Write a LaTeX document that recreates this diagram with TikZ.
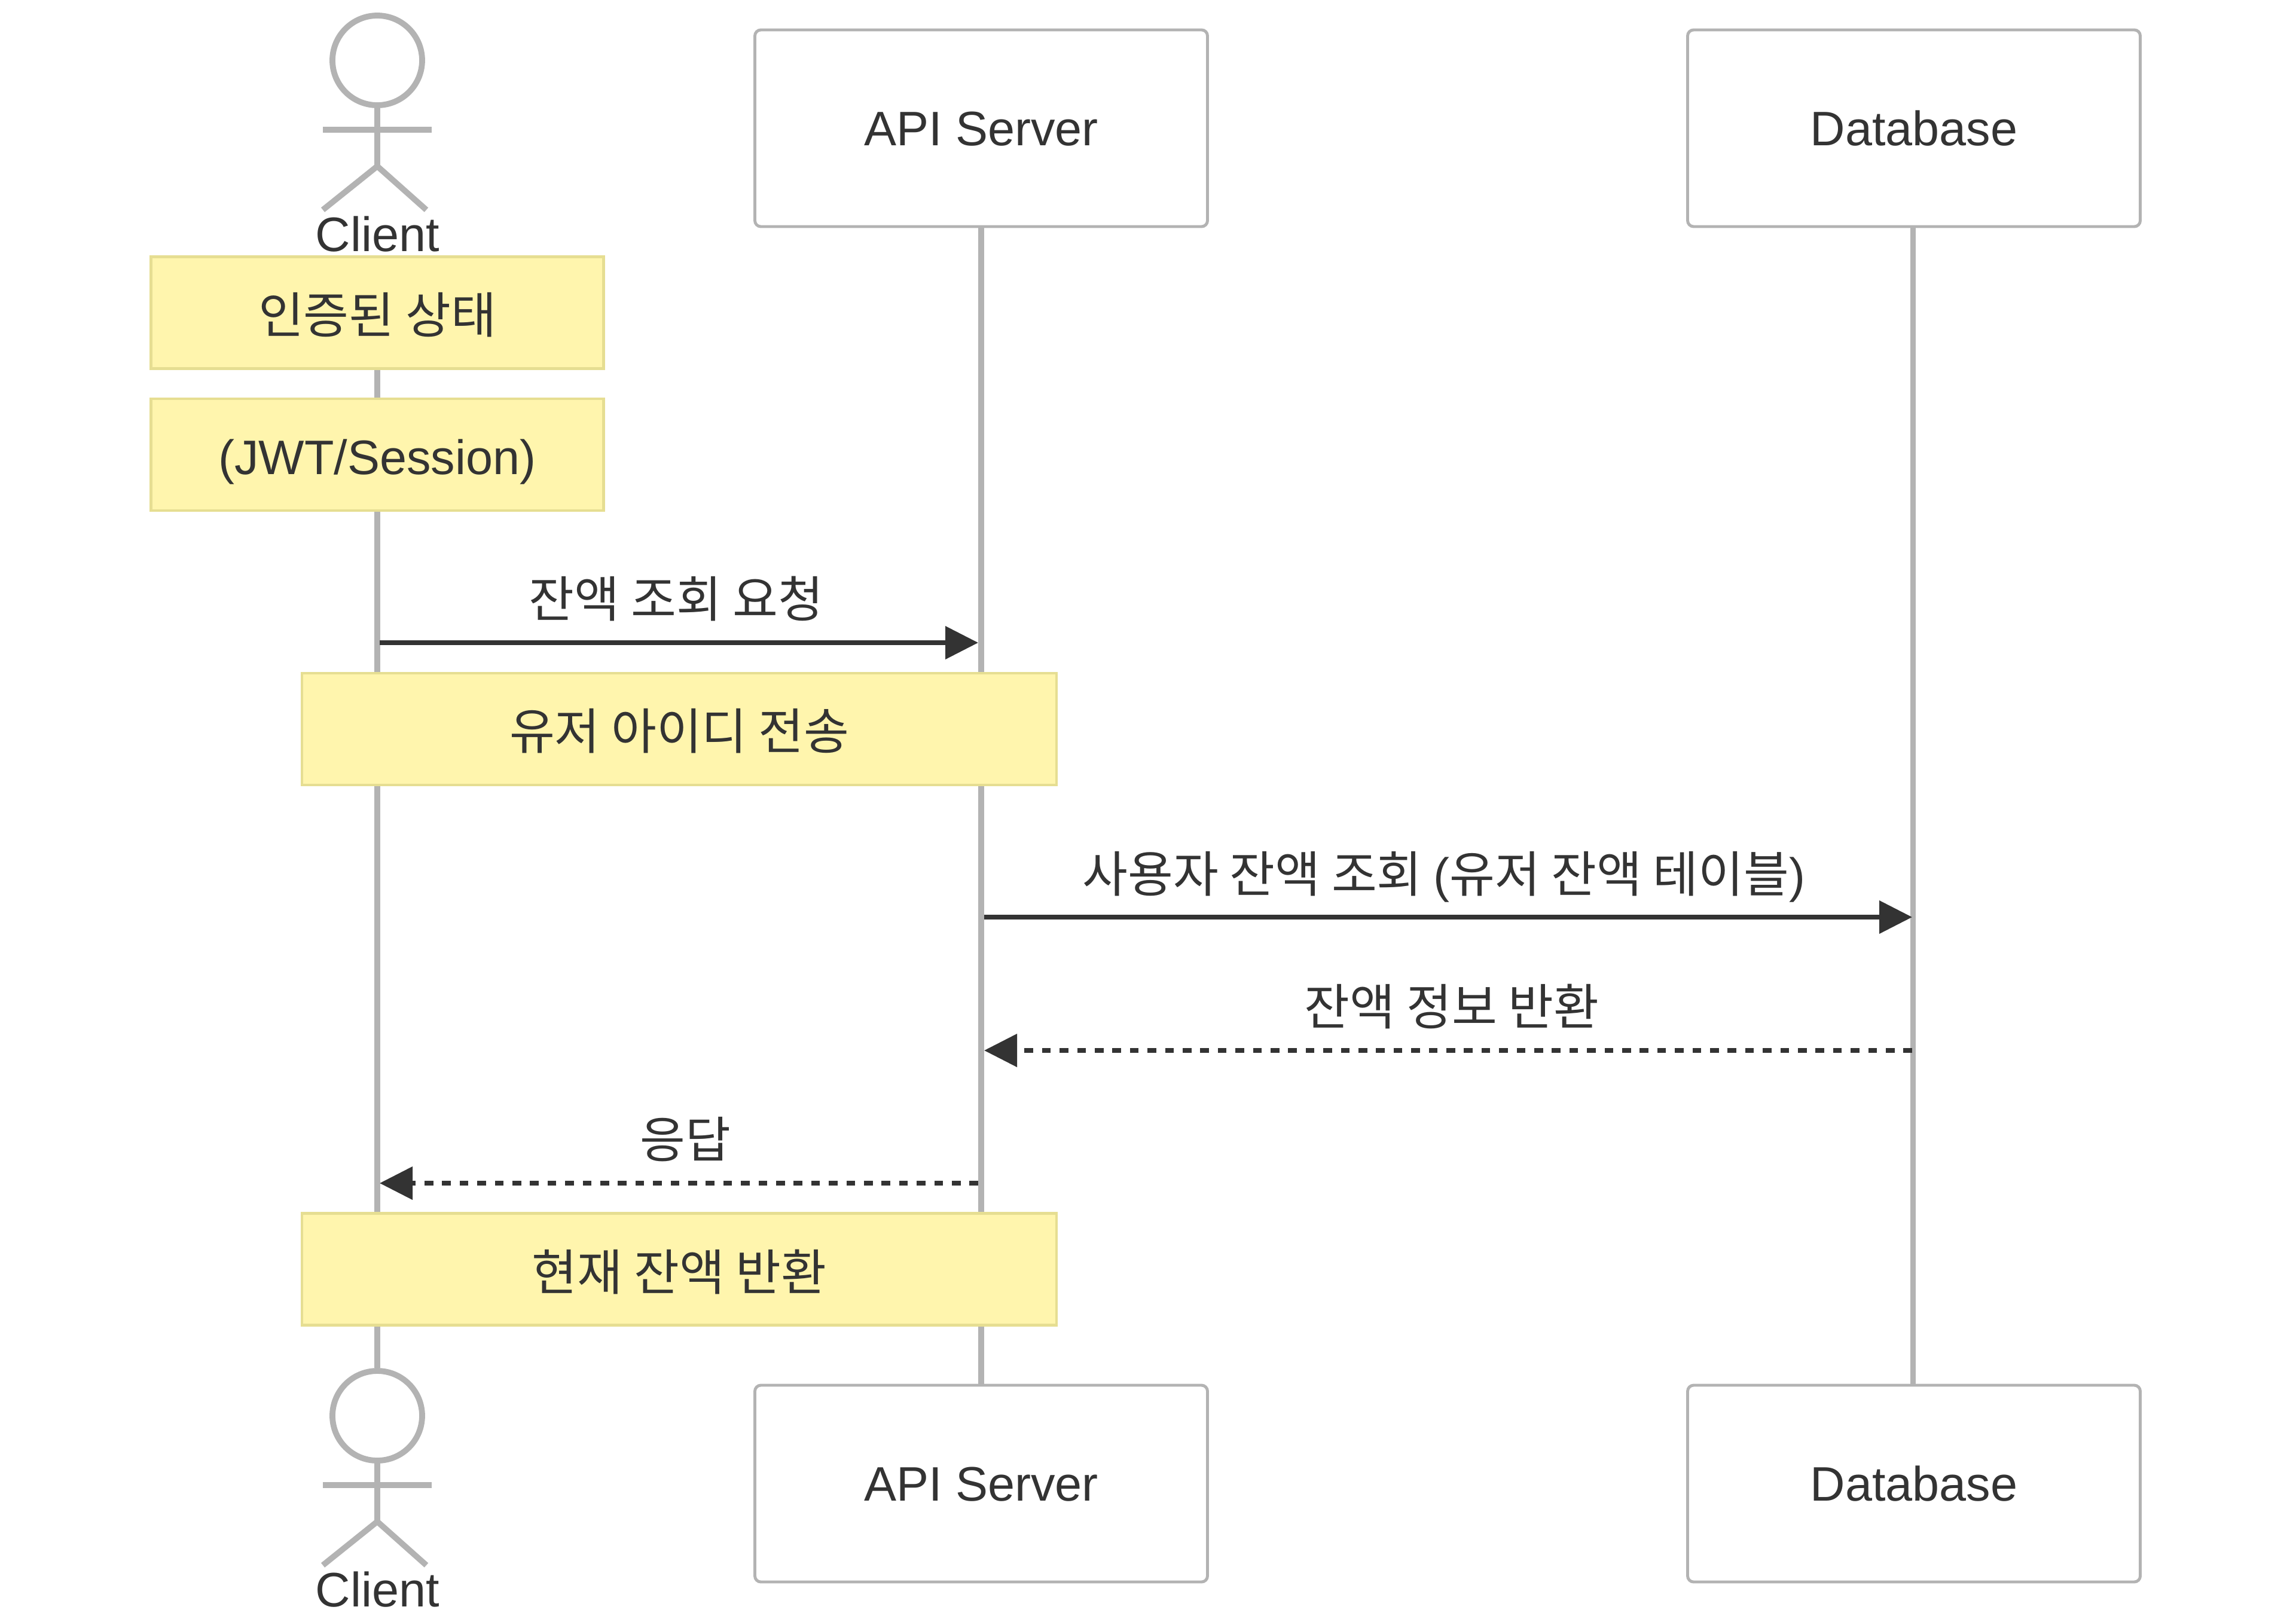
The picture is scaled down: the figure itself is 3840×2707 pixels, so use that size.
\documentclass[tikz,border=0pt]{standalone}
\usepackage{fontspec}
\setmainfont{Liberation Sans}
\newfontfamily\kr[Scale=1.018]{Noto Sans CJK KR}
\usetikzlibrary{arrows.meta}
\definecolor{ink}{HTML}{333333}
\definecolor{lifegray}{HTML}{B3B3B3}
\definecolor{notefill}{HTML}{FFF5AD}
\definecolor{noteedge}{HTML}{E6DE92}
\tikzset{
  every node/.style={font=\fontsize{81}{97}\selectfont, text=ink, inner sep=0pt, outer sep=0pt},
  partbox/.style={draw=lifegray, fill=white, line width=4.9pt, rounded corners=10pt, minimum width=757pt, minimum height=329pt, text height=63pt, text depth=6pt},
  notebox/.style={draw=noteedge, fill=notefill, line width=4.9pt, minimum height=187pt},
  lifeline/.style={draw=lifegray, line width=9.8pt},
  actorline/.style={draw=lifegray, line width=9.8pt},
  msg/.style={draw=ink, line width=7.5pt, -{Triangle[length=55pt,width=54pt]}},
  reply/.style={msg, dash pattern=on 14.7pt off 14.7pt},
  msglabel/.style={anchor=base}
}
\begin{document}
\begin{tikzpicture}[x=1pt,y=-1pt]
\useasboundingbox (0,0) rectangle (3840,2707);
\fill[white] (0,0) rectangle (3840,2707);

\coordinate (apitop) at (1641,379);
\coordinate (dbtop) at (3199.5,379);
\coordinate (apibot) at (1641,2317);
\coordinate (dbbot) at (3199.5,2317);
\coordinate (clitop) at (631,450);
\coordinate (clibot) at (631,2288);

\draw[lifeline] (clitop) -- (clibot);
\draw[lifeline] (apitop) -- (apibot);
\draw[lifeline] (dbtop) -- (dbbot);

\node[partbox] (api1) at (1641,214.5) {API Server};
\node[partbox] (db1) at (3201,214.5) {Database};
\node[partbox] (api2) at (1641,2481.5) {API Server};
\node[partbox] (db2) at (3201,2481.5) {Database};

% actors
\node[circle, draw=lifegray, fill=white, line width=9.8pt, minimum size=150pt] (head1) at (631,101) {};
\coordinate (hip1) at (631,278);
\coordinate (armL1) at (540,217);
\coordinate (armR1) at (722,217);
\coordinate (legL1) at (540,351);
\coordinate (legR1) at (713,351);
\draw[actorline] (head1.south) -- (hip1);
\draw[actorline] (armL1) -- (armR1);
\draw[actorline] (legL1) -- (hip1) -- (legR1);
\node[anchor=base] (cli1) at (631.5,420) {Client};

\node[circle, draw=lifegray, fill=white, line width=9.8pt, minimum size=150pt] (head2) at (631,2368) {};
\coordinate (hip2) at (631,2545);
\coordinate (armL2) at (540,2484);
\coordinate (armR2) at (722,2484);
\coordinate (legL2) at (540,2618);
\coordinate (legR2) at (713,2618);
\draw[actorline] (head2.south) -- (hip2);
\draw[actorline] (armL2) -- (armR2);
\draw[actorline] (legL2) -- (hip2) -- (legR2);
\node[anchor=base] (cli2) at (631.5,2687) {Client};

% notes
\node[notebox, minimum width=757pt, text height=74pt, text depth=6pt] (n1) at (631,523) {\kr 인증된 상태};
\node[notebox, minimum width=757pt, text height=71pt, text depth=6pt] (n2) at (631,760.5) {(JWT/Session)};
\node[notebox, minimum width=1262pt, text height=74pt, text depth=6pt] (n3) at (1136,1219.5) {\kr 유저 아이디 전송};
\node[notebox, minimum width=1262pt, text height=76pt, text depth=6pt] (n4) at (1136,2123) {\kr 현재 잔액 반환};

% messages
\coordinate (m1a) at (635,1075);
\coordinate (m1b) at (1636,1075);
\coordinate (m2a) at (1646,1534);
\coordinate (m2b) at (3198,1534);
\coordinate (m3a) at (3198,1757);
\coordinate (m3b) at (1646,1757);
\coordinate (m4a) at (1636,1979);
\coordinate (m4b) at (635,1979);
\draw[msg] (m1a) -- (m1b);
\draw[msg] (m2a) -- (m2b);
\draw[reply] (m3a) -- (m3b);
\draw[reply] (m4a) -- (m4b);

\node[msglabel] (l1) at (1131,1032) {\kr 잔액 조회 요청};
\node[msglabel] (l2) at (2415,1492) {\kr 사용자 잔액 조회 {\normalfont (}유저 잔액 테이블{\normalfont )}};
\node[msglabel] (l3) at (2428,1714) {\kr 잔액 정보 반환};
\node[msglabel] (l4) at (1146,1936) {\kr 응답};
\end{tikzpicture}
\end{document}
